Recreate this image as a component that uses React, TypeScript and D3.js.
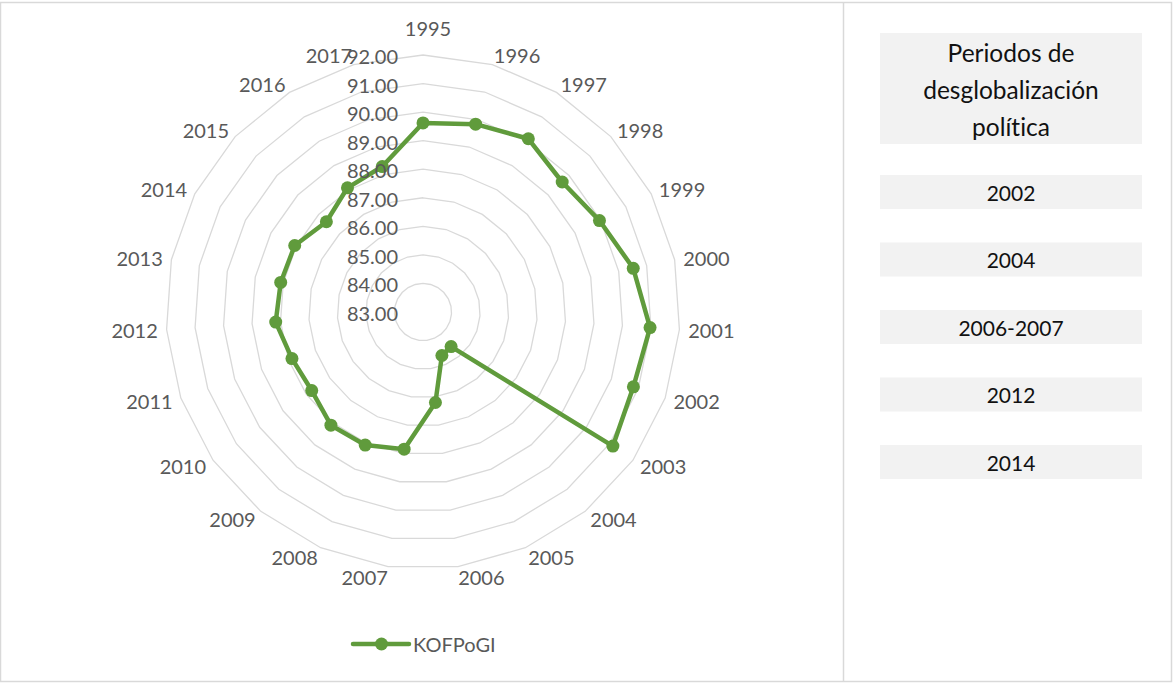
import React from "react";
import * as d3 from "d3";

const years: string[] = [
  "1995","1996","1997","1998","1999","2000","2001","2002","2003","2004","2005","2006",
  "2007","2008","2009","2010","2011","2012","2013","2014","2015","2016","2017",
];
const kofpogi: number[] = [
  89.62, 89.83, 90.10, 89.67, 89.96, 90.52, 90.97, 90.82, 91.14, 84.56, 84.66, 86.20,
  87.85, 88.08, 88.11, 87.77, 87.87, 88.17, 88.09, 88.06, 87.63, 88.09, 88.29,
];
const ringTicks: number[] = [83, 84, 85, 86, 87, 88, 89, 90, 91, 92];
const seriesName = "KOFPoGI";
const panelTitle: string[] = ["Periodos de", "desglobalización", "política"];
const panelItems: string[] = ["2002", "2004", "2006-2007", "2012", "2014"];

const W = 1173;
const H = 683;
const cx = 423;
const cy = 312;
const GREEN = "#609B3C";
const GRID = "#d9d9d9";
const LABEL = "#595959";
const FONT = "Lato, 'Open Sans', sans-serif";

export default function App() {
  const r = d3.scaleLinear().domain([83, 92]).range([0, 257]);
  const n = years.length;
  const angle = d3
    .scaleLinear()
    .domain([0, n])
    .range([0, 2 * Math.PI]);

  const ringPath = (v: number) =>
    d3
      .lineRadial<number>()
      .angle((_, i) => angle(i))
      .radius(() => r(v))
      .curve(d3.curveLinearClosed)(d3.range(n)) as string;

  const seriesPath = d3
    .lineRadial<number>()
    .angle((_, i) => angle(i))
    .radius((d) => r(d))
    .curve(d3.curveLinearClosed)(kofpogi) as string;

  const clamp = (v: number) => Math.max(-1, Math.min(1, v));
  const labelR = 267;
  const hw = 22;

  // panel layout
  const px0 = 880;
  const pw = 262;
  const titleY0 = 33;
  const titleH = 111;
  const itemY0 = 175;
  const itemStep = 67.5;
  const itemH = 34;

  return (
    <svg
      width={W}
      height={H}
      style={{ position: "absolute", left: 0, top: 0, background: "#fff", fontVariantLigatures: "none" }}
    >
      <rect x={0.5} y={2.5} width={W - 2} height={679} fill="#fff" stroke={GRID} strokeWidth={1.5} />
      <line x1={843.5} x2={843.5} y1={2.5} y2={681.5} stroke={GRID} strokeWidth={1.5} />

      <g transform={`translate(${cx},${cy})`}>
        {ringTicks.slice(1).map((t) => (
          <path key={t} d={ringPath(t)} fill="none" stroke={GRID} strokeWidth={1.3} />
        ))}
        <path d={seriesPath} fill="none" stroke={GREEN} strokeWidth={4.5} strokeLinejoin="round" />
        {kofpogi.map((v, i) => {
          const a = angle(i);
          return (
            <circle
              key={i}
              cx={Math.sin(a) * r(v)}
              cy={-Math.cos(a) * r(v)}
              r={6.5}
              fill={GREEN}
            />
          );
        })}
        {ringTicks.map((t) => (
          <text
            key={t}
            x={-25}
            y={-r(t) + 1}
            textAnchor="end"
            dominantBaseline="central"
            fontFamily={FONT}
            fontSize={20}
            fill={LABEL}
          >
            {t.toFixed(2)}
          </text>
        ))}
        {years.map((y, i) => {
          const a = angle(i);
          const s = Math.sin(a);
          const c = Math.cos(a);
          let x = s * labelR + hw * clamp(s * 10);
          let yy = -c * labelR;
          if (i === 0) {
            // nudge away from the value-axis labels, as the original does
            x += 5;
            yy -= 17;
          }
          return (
            <text
              key={y}
              x={x}
              y={yy}
              textAnchor="middle"
              dominantBaseline="central"
              fontFamily={FONT}
              fontSize={20}
              fill={LABEL}
            >
              {y}
            </text>
          );
        })}
      </g>

      {/* legend */}
      <g transform="translate(353,644)">
        <line x1={0} x2={56} y1={0} y2={0} stroke={GREEN} strokeWidth={4.5} strokeLinecap="round" />
        <circle cx={28.5} cy={0} r={6.5} fill={GREEN} />
        <text x={60} y={0} dominantBaseline="central" fontFamily={FONT} fontSize={20} fill={LABEL}>
          {seriesName}
        </text>
      </g>

      {/* right panel */}
      <rect x={px0} y={titleY0} width={pw} height={titleH} fill="#f2f2f2" />
      {panelTitle.map((t, i) => (
        <text
          key={t}
          x={px0 + pw / 2}
          y={titleY0 + 19 + i * 37}
          textAnchor="middle"
          dominantBaseline="central"
          fontFamily={FONT}
          fontSize={24.5}
          fill="#111"
        >
          {t}
        </text>
      ))}
      {panelItems.map((t, i) => (
        <g key={t}>
          <rect x={px0} y={itemY0 + i * itemStep} width={pw} height={itemH} fill="#f2f2f2" />
          <text
            x={px0 + pw / 2}
            y={itemY0 + i * itemStep + itemH / 2}
            textAnchor="middle"
            dominantBaseline="central"
            fontFamily={FONT}
            fontSize={21}
            fill="#111"
          >
            {t}
          </text>
        </g>
      ))}
    </svg>
  );
}
